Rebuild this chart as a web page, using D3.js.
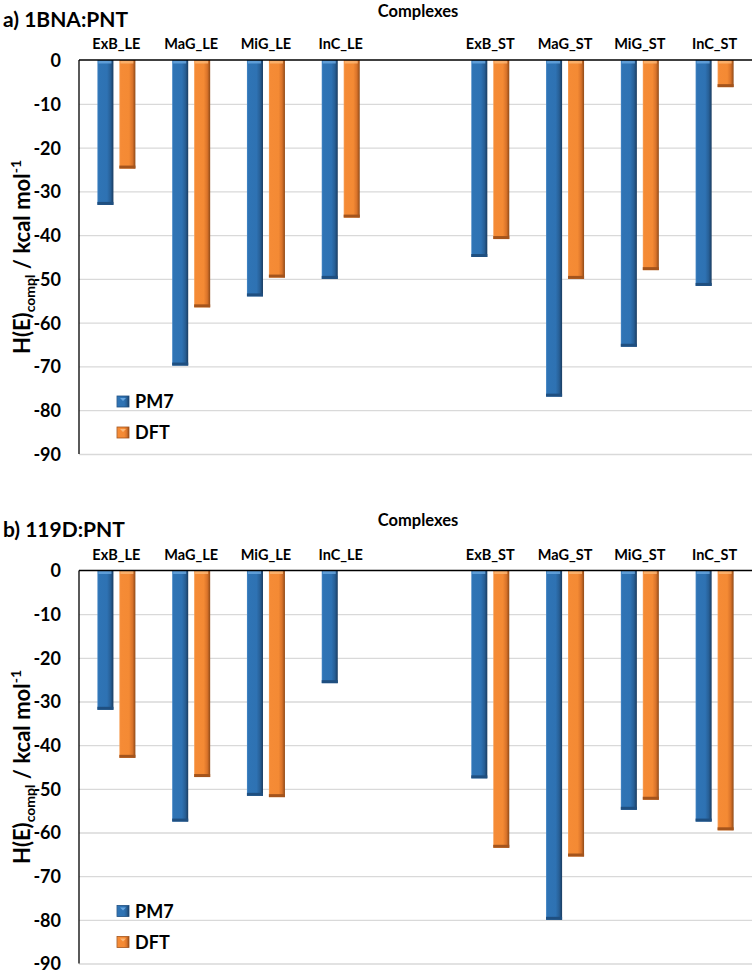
<!DOCTYPE html>
<html><head><meta charset="utf-8">
<script src="https://cdn.jsdelivr.net/npm/d3@7"></script>
<style>
body{margin:0;background:#fff;}
svg{display:block;font-family:Lato,"Open Sans",sans-serif;font-weight:bold;}
</style></head>
<body><svg id="c" width="755" height="973"></svg>
<script>
const categoriesLE = ["ExB_LE","MaG_LE","MiG_LE","InC_LE"];
const categoriesST = ["ExB_ST","MaG_ST","MiG_ST","InC_ST"];
const categories = categoriesLE.concat(categoriesST);
const seriesNames = ["PM7","DFT"];
const yTicks = [0,-10,-20,-30,-40,-50,-60,-70,-80,-90];
const pm7A = [-33.1,-69.8,-54.0,-50.0,-45.0,-76.9,-65.5,-51.6];
const dftA = [-24.8,-56.5,-49.7,-36.0,-40.9,-50.0,-48.0,-6.2];
const pm7B = [-31.9,-57.5,-51.6,-25.8,-47.6,-80.0,-54.8,-57.5];
const dftB = [-42.9,-47.3,-51.9,null,-63.5,-65.5,-52.5,-59.5];
const panels = [
  {title:"a) 1BNA:PNT", pm7:pm7A, dft:dftA, top:60, bottom:454, titleY:27, compY:17},
  {title:"b) 119D:PNT", pm7:pm7B, dft:dftB, top:570.5, bottom:963.5, titleY:537, compY:526}
];

const svg = d3.select("#c");
const defs = svg.append("defs");
function grad(id, stops){
  const g = defs.append("linearGradient").attr("id",id).attr("x1","0").attr("x2","1").attr("y1","0").attr("y2","0");
  stops.forEach(s=>g.append("stop").attr("offset",s[0]).attr("stop-color",s[1]));
}
grad("gBlue",[[0,"#4a8ac8"],[0.08,"#2f74b5"],[0.6,"#2e72b3"],[0.82,"#275f96"],[1,"#1a3c60"]]);
grad("gOrange",[[0,"#f7a35c"],[0.08,"#f58b36"],[0.6,"#f48a34"],[0.82,"#d9732a"],[1,"#8f4a18"]]);
const fills = {PM7:"url(#gBlue)", DFT:"url(#gOrange)"};
const caps = {PM7:"#6aa7e0", DFT:"#fbb878"};
const bottoms = {PM7:"#1f4f80", DFT:"#a4541c"};

const slots = categoriesLE.concat(["_gap"]).concat(categoriesST);
const x = d3.scaleBand().domain(slots).range([79,752]).paddingInner(0).paddingOuter(0);
const bw = x.bandwidth();
const x1 = d3.scaleBand().domain(seriesNames).range([bw/2-19, bw/2+19]).paddingInner(0.27);

panels.forEach(p=>{
  const g = svg.append("g");
  const y = d3.scaleLinear().domain([-90,0]).range([p.bottom,p.top]);
  g.append("g").attr("transform","translate(79,0)")
    .call(d3.axisLeft(y).tickValues(yTicks.filter(t=>t!==0)).tickSize(-(752-79)).tickFormat(""))
    .call(a=>a.select(".domain").remove())
    .call(a=>a.selectAll("line").attr("stroke","#d9d9d9").attr("stroke-width",1.3));
  g.append("g").attr("transform","translate(61,0)")
    .call(d3.axisLeft(y).tickValues(yTicks).tickSize(0).tickPadding(0).tickFormat(d=>String(d)))
    .call(a=>a.select(".domain").remove())
    .call(a=>a.selectAll("text").attr("font-size",18).attr("font-weight","bold").attr("fill","#000").attr("font-family","Lato,sans-serif").attr("dy","0.36em"));
  const series = {PM7:p.pm7, DFT:p.dft};
  seriesNames.forEach(s=>{
    const data = categories.map((c,i)=>({c, v:series[s][i]})).filter(d=>d.v!==null);
    const bg = g.append("g");
    data.forEach(d=>{
      const bx = x(d.c)+x1(s), w = x1.bandwidth();
      const y0 = y(0), y1 = y(d.v);
      bg.append("rect").attr("x",bx).attr("y",y0).attr("width",w).attr("height",y1-y0).attr("fill",fills[s]);
      bg.append("rect").attr("x",bx+1).attr("y",y0+0.5).attr("width",w-3).attr("height",3).attr("fill",caps[s]).attr("opacity",0.8);
      bg.append("rect").attr("x",bx).attr("y",y1-3).attr("width",w).attr("height",3).attr("fill",bottoms[s]);
    });
  });
  g.append("line").attr("x1",79).attr("x2",79).attr("y1",y(0)).attr("y2",y(-90)).attr("stroke","#000").attr("stroke-width",1.3);
  g.append("line").attr("x1",79).attr("x2",752).attr("y1",y(0)).attr("y2",y(0)).attr("stroke","#000").attr("stroke-width",1.3);
  g.selectAll(".cat").data(categories).enter().append("text")
    .attr("x",d=>x(d)+bw/2).attr("y",p.top-11).attr("text-anchor","middle")
    .attr("font-size",14.5).attr("fill","#000").text(d=>d);
  g.append("text").attr("x",3).attr("y",p.titleY).attr("font-size",21).attr("fill","#000").text(p.title);
  g.append("text").attr("x",418).attr("y",p.compY).attr("text-anchor","middle").attr("font-size",16.5).attr("fill","#000").text("Complexes");
  const yt = g.append("text").attr("transform",`translate(30,${(p.top+p.bottom)/2}) rotate(-90)`)
    .attr("text-anchor","middle").attr("font-size",22).attr("fill","#000");
  yt.append("tspan").text("H(E)");
  yt.append("tspan").attr("font-size",14).attr("dy",5).text("compl");
  yt.append("tspan").attr("dy",-5).text(" / kcal mol");
  yt.append("tspan").attr("font-size",14).attr("dy",-9).text("-1");
  const lg = g.append("g").attr("transform",`translate(117,${p.bottom-58})`);
  seriesNames.forEach((s,i)=>{
    const r = lg.append("g").attr("transform",`translate(0,${i*31})`);
    r.append("rect").attr("width",12).attr("height",11).attr("fill",fills[s]).attr("stroke",bottoms[s]).attr("stroke-width",0.8);
    r.append("path").attr("d","M3,2 L9,2 L6,5 Z").attr("fill",caps[s]);
    r.append("text").attr("x",18).attr("y",6).attr("dy","0.36em").attr("font-size",18).attr("fill","#000").text(s);
  });
});
</script></body></html>
